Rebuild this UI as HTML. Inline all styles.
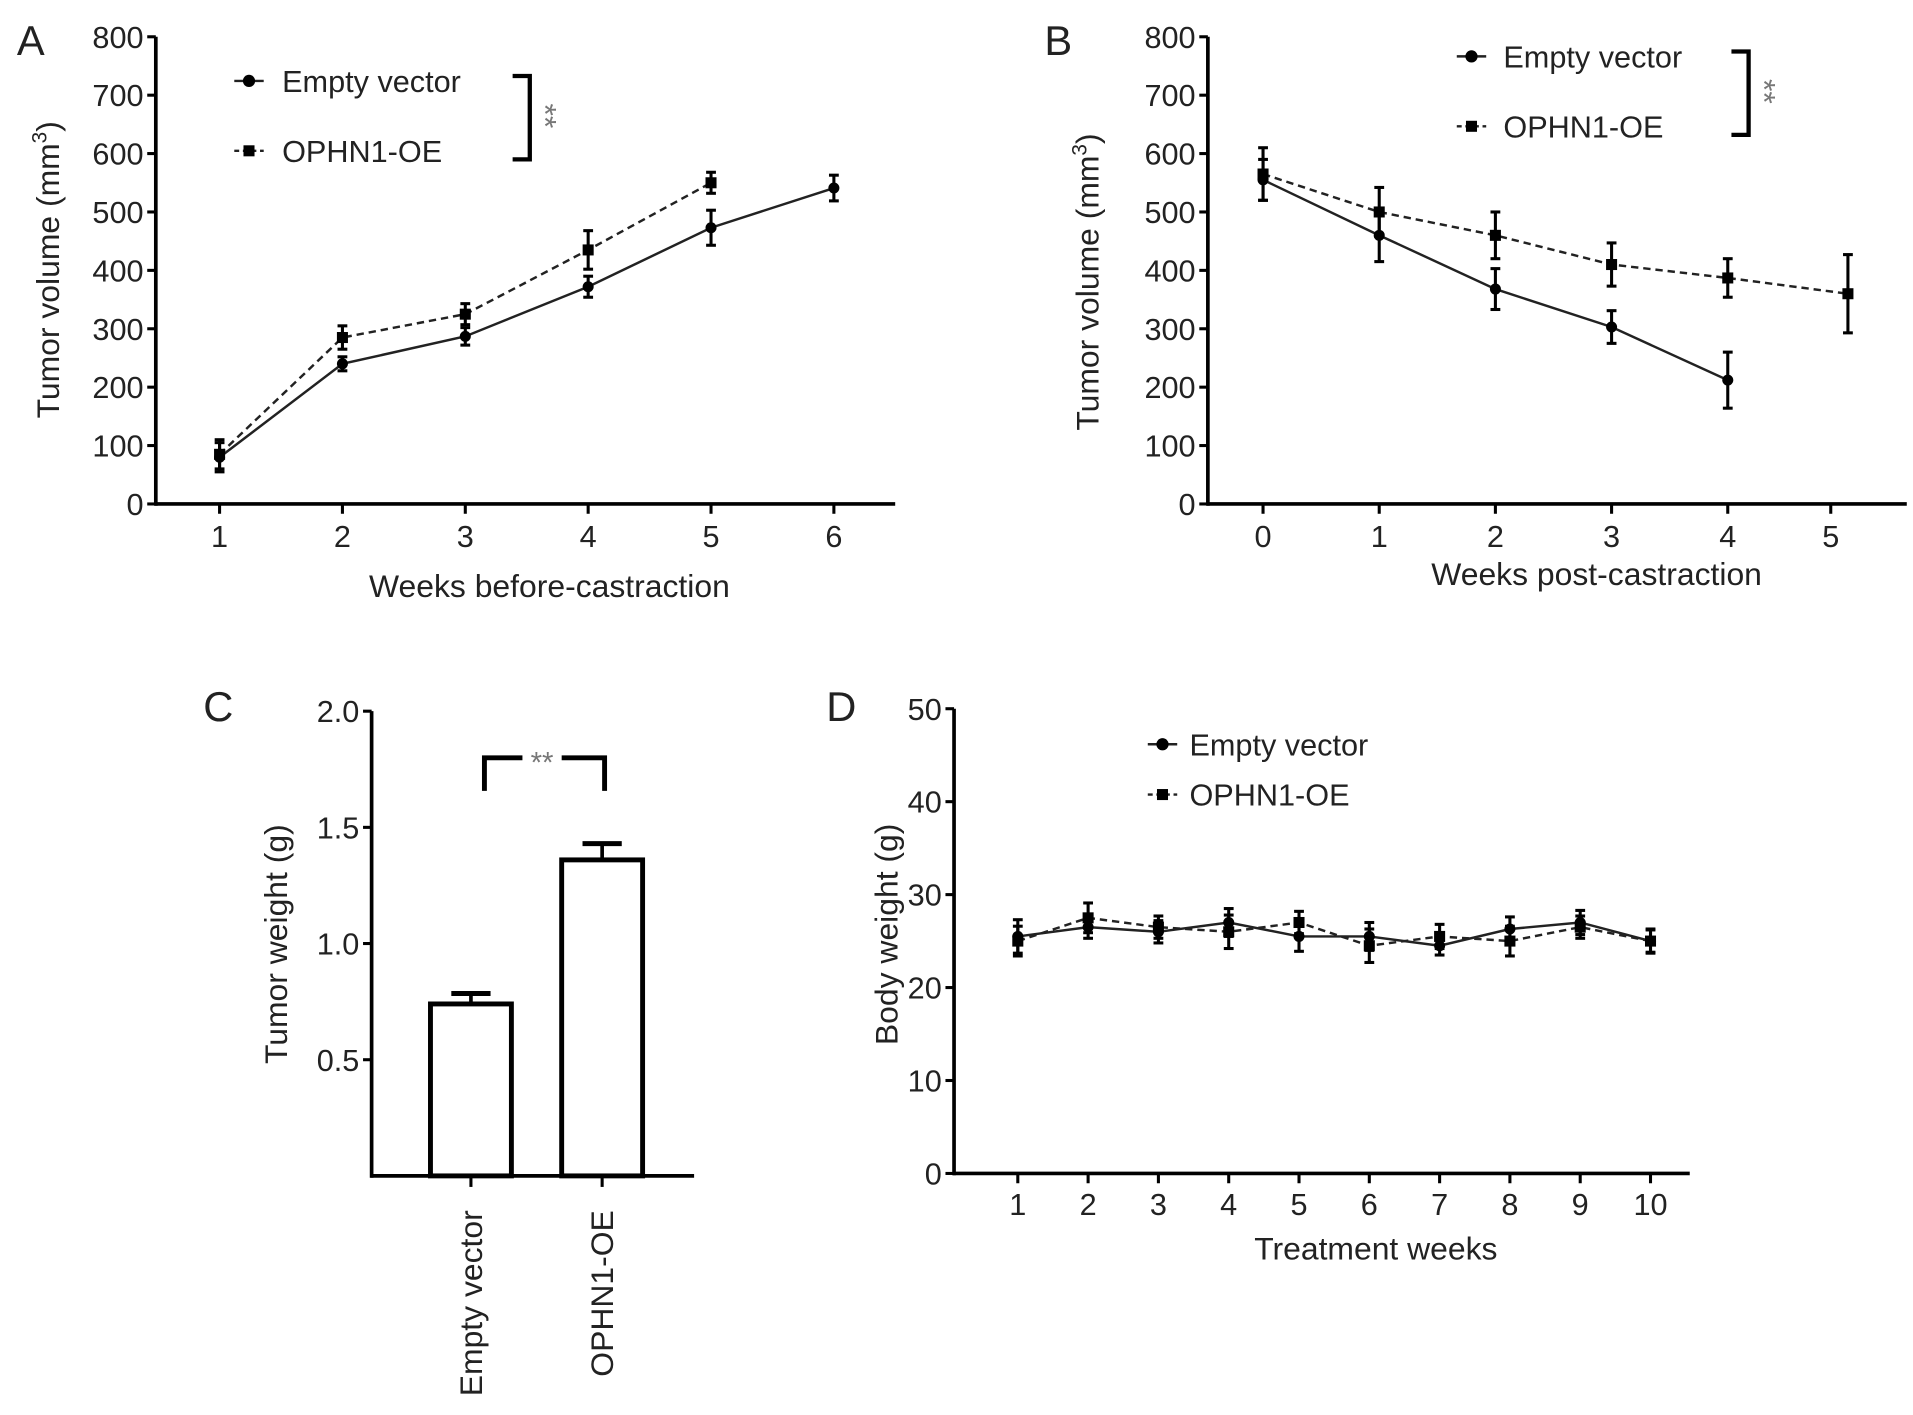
<!DOCTYPE html>
<html><head><meta charset="utf-8"><style>
html,body{margin:0;padding:0;background:#fff;}
svg{display:block;font-family:"Liberation Sans",Arial,sans-serif;}
</style></head><body>
<svg id="fig" width="1913" height="1415" viewBox="0 0 1560 1154" xmlns="http://www.w3.org/2000/svg">
<rect width="1560" height="1154" fill="#fff"/>
</svg>
<script>
// Panel A data
const aWeeks=[1,2,3,4,5,6];
const aEmpty=[80,240,287,372,473,541];
const aEmptyErr=[25,12,15,18,30,22];
const aOE=[85,285,325,435,550];
const aOEErr=[25,20,18,33,18];
const volTicks=[0,100,200,300,400,500,600,700,800];
// Panel B data
const bWeeks=[0,1,2,3,4,5];
const bEmpty=[555,460,368,303,212];
const bEmptyErr=[35,45,35,28,48];
const bOE=[565,500,460,410,387,360];
const bOEErr=[45,42,40,37,33,67];
// Panel C data
const cCats=["Empty vector","OPHN1-OE"];
const cVals=[0.74,1.36];
const cErrs=[0.045,0.07];
const cTicks=[0.5,1.0,1.5,2.0];
// Panel D data
const dWeeks=[1,2,3,4,5,6,7,8,9,10];
const dEmpty=[25.5,26.5,26,27,25.5,25.5,24.5,26.3,27,25];
const dEmptyErr=[1.8,1.2,1.2,1.5,1.6,1.5,1,1.3,1.3,1.3];
const dOE=[25,27.5,26.5,26,27,24.5,25.5,25,26.5,25];
const dOEErr=[1.6,1.6,1.2,1.8,1.2,1.8,1.3,1.6,1.2,1.2];
const dTicks=[0,10,20,30,40,50];

const NS="http://www.w3.org/2000/svg";
const svg=document.getElementById('fig');
function mk(tag,attrs,parent,text){const e=document.createElementNS(NS,tag);for(const k in attrs)e.setAttribute(k,attrs[k]);if(text!==undefined)e.textContent=text;(parent||svg).appendChild(e);return e;}
function grp(name){const g=mk('g',{});


return g;}
function lin(d0,d1,r0,r1){return v=>r0+(v-d0)*(r1-r0)/(d1-d0);}
const FS=25;

function yAxis(g,x,ytop,ybot,ticks,sy,fmt){
  mk('line',{x1:x,y1:ytop,x2:x,y2:ybot+1.5,stroke:'#000','stroke-width':3},g);
  ticks.forEach(t=>{const y=sy(t);
    mk('line',{x1:x-7,y1:y,x2:x,y2:y,stroke:'#000','stroke-width':2.5},g);
    const tx=mk('text',{x:x-10,y:y+9,'text-anchor':'end','font-size':FS,fill:'#222'},g,fmt(t));
    
    
  });
}
function xTicks(g,vals,sx,ybase,ly){
  vals.forEach(v=>{const x=sx(v);
    mk('line',{x1:x,y1:ybase,x2:x,y2:ybase+8,stroke:'#000','stroke-width':2.5},g);
    const tx=mk('text',{x:x,y:ly,'text-anchor':'middle','font-size':FS,fill:'#222'},g,String(v));
    
    
  });
}
function series(g,xs,ys,es,sx,sy,dashed,square,name){
  const s=grp(name);g.appendChild(s);
  const pts=ys.map((v,i)=>sx(xs[i])+','+sy(v)).join(' ');
  mk('polyline',{points:pts,fill:'none',stroke:'#222','stroke-width':2,'stroke-dasharray':dashed?'6,4':'none'},s);
  ys.forEach((v,i)=>{const x=sx(xs[i]);const y=sy(v);
    const e1=sy(v+es[i]),e2=sy(v-es[i]);
    mk('line',{x1:x,y1:e1,x2:x,y2:e2,stroke:'#000','stroke-width':2.5},s);
    mk('line',{x1:x-4,y1:e1,x2:x+4,y2:e1,stroke:'#000','stroke-width':2.5},s);
    mk('line',{x1:x-4,y1:e2,x2:x+4,y2:e2,stroke:'#000','stroke-width':2.5},s);
    if(square)mk('rect',{x:x-4.5,y:y-4.5,width:9,height:9,fill:'#000'},s);
    else mk('circle',{cx:x,cy:y,r:4.5,fill:'#000'},s);
  });
}
function legend(g,x,y1,y2,tx,bracket,bx){
  const l=grp('legend');g.appendChild(l);
  mk('line',{x1:x-12,y1:y1,x2:x+12,y2:y1,stroke:'#222','stroke-width':2},l);
  mk('circle',{cx:x,cy:y1,r:5,fill:'#000'},l);
  mk('text',{x:tx,y:y1+9,'font-size':FS,fill:'#222'},l,'Empty vector');
  mk('line',{x1:x-12,y1:y2,x2:x+12,y2:y2,stroke:'#222','stroke-width':2,'stroke-dasharray':'4,3'},l);
  mk('rect',{x:x-4.5,y:y2-4.5,width:9,height:9,fill:'#000'},l);
  mk('text',{x:tx,y:y2+9,'font-size':FS,fill:'#222'},l,'OPHN1-OE');
  if(bracket){
    mk('polyline',{points:`${bx-14},${y1-4} ${bx},${y1-4} ${bx},${y2+7} ${bx-14},${y2+7}`,fill:'none',stroke:'#000','stroke-width':3.5},l);
    mk('text',{x:0,y:0,'font-size':26,fill:'#777','text-anchor':'middle',transform:`translate(${bx+4},${(y1+y2)/2}) rotate(90)`},l,'**');
  }
}
function label(txt,x,y,size,rot,name,anchor){
  const t=mk('text',{x:0,y:0,'font-size':size,fill:'#222','text-anchor':anchor||'middle',transform:`translate(${x},${y}) rotate(${rot||0})`});
  t.textContent=txt;
  
  
  return t;
}
function yvolLabel(x,y){
  const t=mk('text',{x:0,y:0,'font-size':FS+1,fill:'#222','text-anchor':'middle',transform:`translate(${x},${y}) rotate(-90)`});
  
  
  mk('tspan',{},t,'Tumor volume (mm');
  mk('tspan',{'font-size':17,dy:-10},t,'3');
  mk('tspan',{dy:10},t,')');
}

// Panel A
(function(){
  const g=grp('panel-a');svg.appendChild(g);
  const sy=lin(0,800,411,30), sx=lin(1,6,179,680);
  yAxis(g,127,30,411,volTicks,sy,String);
  mk('line',{x1:126,y1:411,x2:730,y2:411,stroke:'#000','stroke-width':3},g);
  xTicks(g,aWeeks,sx,411,446);
  series(g,aWeeks,aEmpty,aEmptyErr,sx,sy,false,false,'series-empty-vector');
  series(g,aWeeks.slice(0,aOE.length),aOE,aOEErr,sx,sy,true,true,'series-ophn1-oe');
  legend(g,203,66,123,230,true,432);
  label('Weeks before-castraction',448,487,FS+1,0,'x-axis-title');
  yvolLabel(48,220);
  label('A',25,45,34,0,'panel-label-a');
})();
// Panel B
(function(){
  const g=grp('panel-b');svg.appendChild(g);
  const sy=lin(0,800,411,30), sx=lin(0,4,1030,1409);
  yAxis(g,985,30,411,volTicks,sy,String);
  mk('line',{x1:984,y1:411,x2:1555,y2:411,stroke:'#000','stroke-width':3},g);
  xTicks(g,bWeeks,v=>v===5?1493:sx(v),411,446);
  series(g,bWeeks.slice(0,bEmpty.length),bEmpty,bEmptyErr,sx,sy,false,false,'series-empty-vector');
  series(g,bWeeks,bOE,bOEErr,v=>v===5?1507:sx(v),sy,true,true,'series-ophn1-oe');
  legend(g,1200,46,103,1226,true,1426);
  label('Weeks post-castraction',1302,477,FS+1,0,'x-axis-title');
  yvolLabel(896,230);
  label('B',863,45,34,0,'panel-label-b');
})();
// Panel C
(function(){
  const g=grp('panel-c');svg.appendChild(g);
  const sy=lin(0,2,959,580);
  yAxis(g,303,580,959,cTicks,sy,v=>v.toFixed(1));
  mk('line',{x1:302,y1:959,x2:566,y2:959,stroke:'#000','stroke-width':3},g);
  const cx=[384,491];
  cVals.forEach((v,i)=>{
    const b=mk('g',{},g);
    
    
    const top=sy(v),et=sy(v+cErrs[i]);
    mk('line',{x1:cx[i],y1:top,x2:cx[i],y2:et,stroke:'#000','stroke-width':3},b);
    mk('line',{x1:cx[i]-16,y1:et,x2:cx[i]+16,y2:et,stroke:'#000','stroke-width':4},b);
    mk('rect',{x:cx[i]-33,y:top,width:66,height:959-top,fill:'#fff',stroke:'#000','stroke-width':4},b);
    mk('line',{x1:cx[i],y1:959,x2:cx[i],y2:968,stroke:'#000','stroke-width':2.5},g);
    label(cCats[i],cx[i]+9,987,FS+1,-90,'x-tick-label','end');
  });
  mk('polyline',{points:'395,645 395,618 426,618',fill:'none',stroke:'#000','stroke-width':4},g);
  mk('polyline',{points:'458,618 493,618 493,645',fill:'none',stroke:'#000','stroke-width':4},g);
  label('**',442,630,24,0,'significance-marker').setAttribute('fill','#777');
  label('Tumor weight (g)',234,770,FS+1,-90,'y-axis-title');
  label('C',178,588,34,0,'panel-label-c');
})();
// Panel D
(function(){
  const g=grp('panel-d');svg.appendChild(g);
  const sy=lin(0,50,957,578), sx=lin(1,10,830,1346);
  yAxis(g,778,578,957,dTicks,sy,String);
  mk('line',{x1:777,y1:957,x2:1378,y2:957,stroke:'#000','stroke-width':3},g);
  xTicks(g,dWeeks,sx,957,991);
  series(g,dWeeks,dEmpty,dEmptyErr,sx,sy,false,false,'series-empty-vector');
  series(g,dWeeks,dOE,dOEErr,sx,sy,true,true,'series-ophn1-oe');
  legend(g,948,607,648,970,false,0);
  label('Treatment weeks',1122,1027,FS+1,0,'x-axis-title');
  label('Body weight (g)',732,762,FS+1,-90,'y-axis-title');
  label('D',686,588,34,0,'panel-label-d');
})();
</script>
</body></html>
